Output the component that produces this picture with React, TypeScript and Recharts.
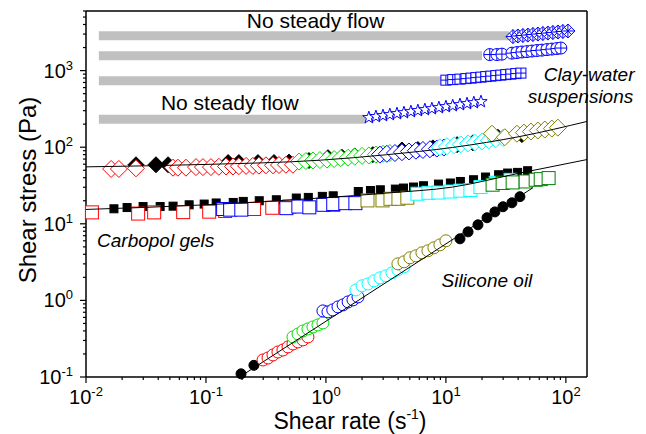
import { ComposedChart, Line, Scatter, XAxis, YAxis } from "recharts";

const FONT = "'Liberation Sans', Arial, Helvetica, sans-serif";

// ---- "No steady flow" grey bands (start / end shear rate, stress level)
const bandStart = 0.0128;
const bandEnds = [33.5, 20, 9.3, 2.15];
const bandLevels = [2850, 1560, 735, 232];

// ---- blue symbols at the end of the bands
const crossDiamondX = [36.2, 39.8, 43.8, 48.2, 53.1, 58.4, 64.3, 70.8, 77.9, 85.8, 94.4, 104];
const crossDiamondY = [2780, 2830, 2870, 2910, 2960, 3000, 3050, 3090, 3140, 3190, 3240, 3290];
const crossCircleX = [23.2, 26.6, 29.3, 35.5, 39.1, 43.0, 47.3, 52.1, 57.3, 63.1, 69.5, 76.4, 84.1, 90.8];
const crossCircleY = [1620, 1620, 1640, 1690, 1720, 1750, 1770, 1800, 1830, 1850, 1880, 1910, 1940, 1970];
const crossSquareX = [10, 11.4, 13.1, 14.7, 16.2, 17.8, 19.6, 21.5, 23.7, 26.1, 28.7, 31.6, 34.8, 38.3, 42.2];
const crossSquareY = [751, 763, 774, 786, 798, 810, 822, 835, 847, 860, 873, 887, 900, 914, 928];
const starX = [2.28, 2.61, 2.99, 3.41, 3.91, 4.47, 5.11, 5.84, 6.68, 7.64, 8.74, 10, 11.4, 13.1, 15.0, 17.1, 19.6];
const starY = [243, 251, 258, 266, 274, 282, 291, 300, 309, 318, 328, 338, 348, 359, 370, 381, 393];

// ---- clay-water suspensions (diamonds)
const clayBlackX = [0.0261, 0.0383, 0.0483, 0.153, 0.188, 0.271, 0.369, 0.492, 0.722, 1.04, 1.36, 1.74, 2.46, 4.3, 5.84, 7.79, 12.4, 16.8, 27.1, 43];
const clayBlackY = [59, 59, 59, 63, 63, 63, 63, 64, 67, 73, 74, 77, 80, 92, 93, 98, 108, 114, 135, 146];
const clayRedX = [0.0162, 0.0188, 0.0261, 0.0531, 0.0584, 0.0681, 0.0826, 0.0944, 0.11, 0.128, 0.147, 0.168, 0.188, 0.216, 0.246, 0.276, 0.316, 0.362, 0.406, 0.464, 0.531];
const clayRedY = [52, 52, 53, 54, 54, 54, 55, 55, 55, 55.5, 56, 56, 56.5, 57, 57, 57.5, 58, 58, 58.5, 59, 59];
const clayGreenX = [0.596, 0.681, 0.78, 0.891, 1.02, 1.17, 1.33, 1.53, 1.74, 2.0, 2.28, 2.61, 2.99, 3.41];
const clayGreenY = [65, 66, 67, 68, 69, 70, 72, 73, 75, 77, 78, 80, 82, 84];
const clayBlueX = [2.82, 3.22, 3.76, 4.3, 4.92, 5.62, 6.43, 7.36, 8.41, 9.62];
const clayBlueY = [80, 82, 84, 86, 88, 90, 92, 94, 96, 99];
const clayCyanX = [8.9, 10.2, 11.7, 13.3, 15.3, 17.4, 20, 22.8, 26.1, 29.9];
const clayCyanY = [100, 103, 106, 109, 112, 115, 119, 123, 127, 132];
const clayOliveX = [24.2, 31, 39.1, 44.7, 51.1, 58.4, 66.8, 76.4, 85.8];
const clayOliveY = [150, 135, 150, 155, 160, 165, 170, 175, 180];

// ---- carbopol gels (squares)
const carbBlackX = [0.0171, 0.022, 0.0299, 0.0415, 0.0532, 0.0724, 0.0966, 0.1216, 0.1687, 0.2046, 0.278, 0.386, 0.566, 0.713, 0.933, 1.15, 1.86, 2.35, 2.84, 3.79, 4.43, 5.37, 6.5, 8.67, 10.9, 13.2, 17, 21.4, 27.5, 32.7, 39.6, 48];
const carbBlackY = [15.7, 16.3, 16.8, 16.8, 17.0, 17.7, 18.1, 18.7, 19.0, 19.6, 20.0, 20.6, 21.7, 22.1, 22.8, 23.2, 26.4, 27.2, 27.8, 28.4, 29.3, 30.2, 31.4, 33.0, 34.1, 35.7, 37.6, 40.8, 43.7, 46.0, 46.9, 49.3];
const carbRedX = [0.0112, 0.0272, 0.037, 0.0646, 0.1064, 0.1446, 0.252, 0.357, 0.495, 1.15];
const carbRedY = [14.1, 13.6, 14.1, 14.2, 14.4, 14.7, 15.6, 16.2, 16.8, 17.7];
const carbBlueX = [0.139, 0.159, 0.197, 0.468, 0.589, 0.727, 0.951, 1.15, 1.45, 1.76];
const carbBlueY = [15.6, 15.3, 15.3, 16.0, 16.8, 16.4, 17.7, 18.1, 18.6, 18.6];
const carbOliveX = [2.22, 2.96, 3.45, 4.02, 4.77];
const carbOliveY = [20.2, 20.2, 21.2, 21.2, 21.9];
const carbCyanX = [5.79, 7.16, 8.67, 10.9, 13.2, 16.0, 19.4, 26, 34.6];
const carbCyanY = [24.7, 25.4, 25.6, 26.4, 27.1, 27.6, 30.2, 34.3, 37.5];
const carbGreenX = [24.5, 29.7, 36, 46.2, 56, 61.7, 71.8];
const carbGreenY = [32.4, 34.1, 34.7, 35.7, 37.6, 38.3, 39.5];

// ---- silicone oil (circles)
const silBlackX = [0.196, 0.251, 13.1, 15.3, 18.5, 22.0, 25.6, 29.9, 35.5, 41.4];
const silBlackY = [0.11, 0.142, 6.37, 7.85, 9.7, 12.0, 14.3, 16.7, 18.8, 22.6];
const silRedX = [0.299, 0.329, 0.362, 0.398, 0.438, 0.483, 0.531, 0.585, 0.643, 0.708];
const silRedY = [0.167, 0.177, 0.194, 0.212, 0.225, 0.247, 0.27, 0.287, 0.305, 0.333];
const silGreenX = [0.531, 0.585, 0.643, 0.708, 0.779, 0.858, 0.944];
const silGreenY = [0.333, 0.364, 0.399, 0.424, 0.45, 0.478, 0.508];
const silBlueX = [0.944, 1.04, 1.14, 1.26, 1.39, 1.53, 1.68, 1.85];
const silBlueY = [0.729, 0.708, 0.751, 0.822, 0.874, 0.956, 1.016, 1.11];
const silCyanX = [1.78, 2.0, 2.24, 2.51, 2.82, 3.16, 3.55, 3.98, 4.47];
const silCyanY = [1.37, 1.55, 1.64, 1.8, 1.97, 2.09, 2.29, 2.5, 2.74];
const silOliveX = [3.98, 4.47, 5.01, 5.62, 6.31, 7.08, 7.94, 8.91, 10];
const silOliveY = [3.0, 3.19, 3.6, 3.82, 4.18, 4.44, 4.86, 5.31, 6.0];

// ---- fitted curves
const clayFitX = [0.01, 0.1, 0.9, 3.2, 11.4, 41.4, 150];
const clayFitY = [55.4, 59.6, 67.7, 79.8, 99.3, 138, 217];
const carbFitX = [0.01, 0.1, 0.89, 3.22, 11.4, 41.4, 150];
const carbFitY = [15.4, 17.7, 21.7, 25.2, 30.2, 46, 69];
const silFitX = [0.2, 53];
const silFitY = [0.105, 29.5];

// ---- annotations (data coordinates)
const notes = [
  { text: "No steady flow", x: 0.82, y: 3650, italic: false, anchor: "middle" },
  { text: "No steady flow", x: 0.158, y: 309, italic: false, anchor: "middle" },
  { text: "Clay-water", x: 65.3, y: 740, italic: true, anchor: "start" },
  { text: "suspensions", x: 48, y: 382, italic: true, anchor: "start" },
  { text: "Carbopol gels", x: 0.01236, y: 5.0, italic: true, anchor: "start" },
  { text: "Silicone oil", x: 9.19, y: 1.5, italic: true, anchor: "start" },
];

const X_MAJOR = [0.01, 0.1, 1, 10, 100];
const Y_MAJOR = [0.1, 1, 10, 100, 1000];
const MINOR = [2, 3, 4, 5, 6, 7, 8, 9];
const withMinor = (majors: number[], max: number) =>
  majors.flatMap((m) => [m, ...MINOR.map((k) => +(m * k).toPrecision(3))]).filter((v) => v <= max);
const xTicks = withMinor(X_MAJOR, 150);
const yTicks = withMinor(Y_MAJOR, 6000);

const zip = (xs: number[], ys: number[]) => xs.map((x, i) => ({ x, y: ys[i] }));
const isMajor = (v: number) => Math.abs(Math.log10(v) - Math.round(Math.log10(v))) < 1e-6;
const expOf = (v: number) => String(Math.round(Math.log10(v)));

function BottomTick({ x, y, payload }: any) {
  const major = isMajor(payload.value);
  return (
    <g>
      <line x1={x} x2={x} y1={y} y2={y + (major ? 6 : 3)} stroke="#000" strokeWidth={1.2} />
      {major && (
        <text x={x} y={y + 27} textAnchor="middle" fontFamily={FONT} fontSize={20} fill="#000">
          10<tspan dy={-8} fontSize={13}>{expOf(payload.value)}</tspan>
        </text>
      )}
    </g>
  );
}

function LeftTick({ x, y, payload }: any) {
  const major = isMajor(payload.value);
  return (
    <g>
      <line x1={x - (major ? 6 : 3)} x2={x} y1={y} y2={y} stroke="#000" strokeWidth={1.2} />
      {major && (
        <text x={x - 13} y={y + 7} textAnchor="end" fontFamily={FONT} fontSize={20} fill="#000">
          10<tspan dy={-8} fontSize={13}>{expOf(payload.value)}</tspan>
        </text>
      )}
    </g>
  );
}

function TopTick({ x, y, payload }: any) {
  const major = isMajor(payload.value);
  return <line x1={x} x2={x} y1={y} y2={y + (major ? 6 : 3)} stroke="#000" strokeWidth={1.2} />;
}

function RightTick({ x, y, payload }: any) {
  const major = isMajor(payload.value);
  return <line x1={x - (major ? 6 : 3)} x2={x} y1={y} y2={y} stroke="#000" strokeWidth={1.2} />;
}

// marker shapes
const openDiamond = (color: string, h = 8.5) => (p: any) => (
  <path
    d={`M${p.cx},${p.cy - h}L${p.cx + h},${p.cy}L${p.cx},${p.cy + h}L${p.cx - h},${p.cy}Z`}
    fill={color === "#000" ? "#000" : "#fff"}
    stroke={color}
    strokeWidth={1}
  />
);
const openSquare = (color: string, s = 13) => (p: any) => (
  <rect
    x={p.cx - s / 2}
    y={p.cy - s / 2}
    width={s}
    height={s}
    fill={color === "#000" ? "#000" : "#fff"}
    stroke={color}
    strokeWidth={1}
  />
);
const openCircle = (color: string, r = 6) => (p: any) => (
  <circle cx={p.cx} cy={p.cy} r={r} fill={color === "#000" ? "#000" : "#fff"} stroke={color} strokeWidth={1} />
);
const BLUE = "#0000ff";
const crossDiamond = (p: any) => {
  const h = 7;
  return (
    <g fill="none" stroke={BLUE} strokeWidth={1}>
      <path d={`M${p.cx},${p.cy - h}L${p.cx + h},${p.cy}L${p.cx},${p.cy + h}L${p.cx - h},${p.cy}Z`} fill="#fff" />
      <path d={`M${p.cx - h},${p.cy}H${p.cx + h}M${p.cx},${p.cy - h}V${p.cy + h}`} />
      <path d={`M${p.cx - h / 2},${p.cy - h / 2}L${p.cx + h / 2},${p.cy + h / 2}M${p.cx - h / 2},${p.cy + h / 2}L${p.cx + h / 2},${p.cy - h / 2}`} />
    </g>
  );
};
const crossCircle = (p: any) => {
  const r = 6;
  return (
    <g fill="none" stroke={BLUE} strokeWidth={1}>
      <circle cx={p.cx} cy={p.cy} r={r} fill="#fff" />
      <path d={`M${p.cx - r},${p.cy}H${p.cx + r}M${p.cx},${p.cy - r}V${p.cy + r}`} />
    </g>
  );
};
const crossSquare = (p: any) => {
  const h = 5;
  return (
    <g fill="none" stroke={BLUE} strokeWidth={1}>
      <rect x={p.cx - h} y={p.cy - h} width={2 * h} height={2 * h} fill="#fff" />
      <path d={`M${p.cx - h},${p.cy}H${p.cx + h}M${p.cx},${p.cy - h}V${p.cy + h}`} />
    </g>
  );
};
const openStar = (p: any) => {
  const R = 6.5;
  const r = 2.6;
  const pts: string[] = [];
  for (let i = 0; i < 10; i++) {
    const a = -Math.PI / 2 + (i * Math.PI) / 5;
    const rr = i % 2 === 0 ? R : r;
    pts.push(`${p.cx + rr * Math.cos(a)},${p.cy + rr * Math.sin(a)}`);
  }
  return <polygon points={pts.join(" ")} fill="#fff" stroke={BLUE} strokeWidth={1} />;
};
const noteShape = (n: (typeof notes)[number]) => (p: any) => (
  <text
    x={p.cx}
    y={p.cy}
    textAnchor={n.anchor as any}
    fontFamily={FONT}
    fontSize={n.italic ? 19 : 21}
    fontStyle={n.italic ? "italic" : "normal"}
    fill="#000"
  >
    {n.text}
  </text>
);

const markerSets = [
  { xs: crossDiamondX, ys: crossDiamondY, shape: crossDiamond },
  { xs: crossCircleX, ys: crossCircleY, shape: crossCircle },
  { xs: crossSquareX, ys: crossSquareY, shape: crossSquare },
  { xs: starX, ys: starY, shape: openStar },
  { xs: clayBlackX, ys: clayBlackY, shape: openDiamond("#000", 8) },
  { xs: carbBlackX, ys: carbBlackY, shape: openSquare("#000", 8) },
  { xs: silBlackX, ys: silBlackY, shape: openCircle("#000", 5) },
  { xs: clayRedX, ys: clayRedY, shape: openDiamond("#ff0000") },
  { xs: clayGreenX, ys: clayGreenY, shape: openDiamond("#00e000") },
  { xs: clayBlueX, ys: clayBlueY, shape: openDiamond(BLUE) },
  { xs: clayCyanX, ys: clayCyanY, shape: openDiamond("#00ffff") },
  { xs: clayOliveX, ys: clayOliveY, shape: openDiamond("#808000") },
  { xs: carbRedX, ys: carbRedY, shape: openSquare("#ff0000") },
  { xs: carbBlueX, ys: carbBlueY, shape: openSquare(BLUE) },
  { xs: carbOliveX, ys: carbOliveY, shape: openSquare("#808000") },
  { xs: carbCyanX, ys: carbCyanY, shape: openSquare("#00ffff") },
  { xs: carbGreenX, ys: carbGreenY, shape: openSquare("#008000") },
  { xs: silRedX, ys: silRedY, shape: openCircle("#ff0000") },
  { xs: silGreenX, ys: silGreenY, shape: openCircle("#00e000") },
  { xs: silBlueX, ys: silBlueY, shape: openCircle(BLUE) },
  { xs: silCyanX, ys: silCyanY, shape: openCircle("#00ffff") },
  { xs: silOliveX, ys: silOliveY, shape: openCircle("#808000") },
];

const fits = [zip(clayFitX, clayFitY), zip(carbFitX, carbFitY), zip(silFitX, silFitY)];

export default function App() {
  const axisLine = { stroke: "#000", strokeWidth: 1.5 };
  return (
    <div style={{ position: "fixed", left: 0, top: 0, width: 646, height: 434, background: "#fff" }}>
      <ComposedChart width={646} height={434} margin={{ top: 10, right: 58, bottom: 0, left: 26 }}>
        <XAxis
          xAxisId="b"
          dataKey="x"
          type="number"
          scale="log"
          domain={[0.01, 150]}
          ticks={xTicks}
          interval={0}
          height={57}
          tickSize={0}
          tickMargin={0}
          tickLine={false}
          axisLine={axisLine}
          tick={BottomTick}
        />
        <XAxis
          xAxisId="t"
          orientation="top"
          dataKey="x"
          type="number"
          scale="log"
          domain={[0.01, 150]}
          ticks={xTicks}
          interval={0}
          height={1}
          tickSize={0}
          tickMargin={0}
          tickLine={false}
          axisLine={axisLine}
          tick={TopTick}
        />
        <YAxis
          yAxisId="l"
          dataKey="y"
          type="number"
          scale="log"
          domain={[0.1, 6000]}
          ticks={yTicks}
          interval={0}
          width={60}
          tickSize={0}
          tickMargin={0}
          tickLine={false}
          axisLine={axisLine}
          tick={LeftTick}
        />
        <YAxis
          yAxisId="r"
          orientation="right"
          dataKey="y"
          type="number"
          scale="log"
          domain={[0.1, 6000]}
          ticks={yTicks}
          interval={0}
          width={1}
          tickSize={0}
          tickMargin={0}
          tickLine={false}
          axisLine={axisLine}
          tick={RightTick}
        />
        {bandLevels.map((lvl, i) => (
          <Line
            key={`band${i}`}
            xAxisId="b"
            yAxisId="l"
            data={[
              { x: bandStart, y: lvl },
              { x: bandEnds[i], y: lvl },
            ]}
            dataKey="y"
            stroke="#c0c0c0"
            strokeWidth={9}
            dot={false}
            activeDot={false}
            isAnimationActive={false}
          />
        ))}
        {markerSets.map((m, i) => (
          <Scatter
            key={`m${i}`}
            xAxisId="b"
            yAxisId="l"
            data={zip(m.xs, m.ys)}
            dataKey="y"
            shape={m.shape}
            isAnimationActive={false}
          />
        ))}
        {fits.map((d, i) => (
          <Line
            key={`fit${i}`}
            xAxisId="b"
            yAxisId="l"
            data={d}
            dataKey="y"
            type="monotone"
            stroke="#000"
            strokeWidth={1}
            dot={false}
            activeDot={false}
            isAnimationActive={false}
            zIndex={700}
          />
        ))}
        {notes.map((n, i) => (
          <Scatter
            key={`n${i}`}
            xAxisId="b"
            yAxisId="l"
            data={[{ x: n.x, y: n.y }]}
            dataKey="y"
            shape={noteShape(n)}
            isAnimationActive={false}
            zIndex={800}
          />
        ))}
      </ComposedChart>
      <svg width={646} height={434} style={{ position: "absolute", left: 0, top: 0, pointerEvents: "none" }}>
        <text x={350} y={429} textAnchor="middle" fontFamily={FONT} fontSize={23} fill="#000">
          Shear rate (s<tspan dy={-10} fontSize={14}>-1</tspan>
          <tspan dy={10}>)</tspan>
        </text>
        <text
          x={36}
          y={190}
          transform="rotate(-90 36 190)"
          textAnchor="middle"
          fontFamily={FONT}
          fontSize={24}
          fill="#000"
        >
          Shear stress (Pa)
        </text>
      </svg>
    </div>
  );
}
